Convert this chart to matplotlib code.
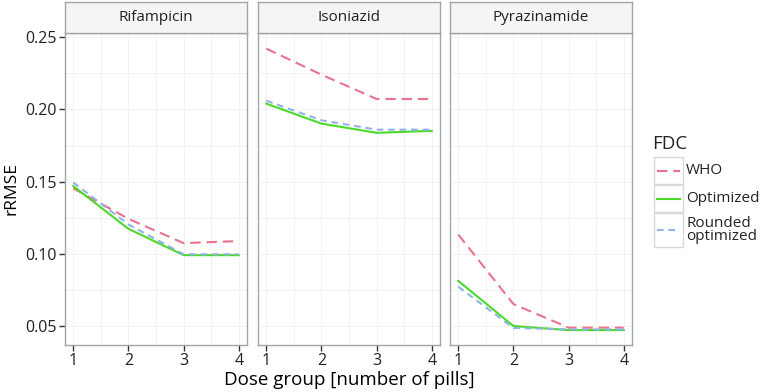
import numpy as np
import matplotlib
matplotlib.use("Agg")
import matplotlib.pyplot as plt
from matplotlib.patches import Rectangle
from matplotlib.lines import Line2D

plt.rcParams['font.family'] = ['Open Sans', 'DejaVu Sans']

drugs = ['Rifampicin', 'Isoniazid', 'Pyrazinamide']
dose = [1, 2, 3, 4]
who = {
    'Rifampicin': [0.1455, 0.1244, 0.1076, 0.1090],
    'Isoniazid': [0.2420, 0.2240, 0.2072, 0.2072],
    'Pyrazinamide': [0.1135, 0.0655, 0.0492, 0.0492],
}
opt = {
    'Rifampicin': [0.1470, 0.1175, 0.0993, 0.0993],
    'Isoniazid': [0.2040, 0.1902, 0.1838, 0.1852],
    'Pyrazinamide': [0.0815, 0.0503, 0.0475, 0.0475],
}
rnd = {
    'Rifampicin': [0.1495, 0.1205, 0.0999, 0.0999],
    'Isoniazid': [0.2060, 0.1925, 0.1860, 0.1860],
    'Pyrazinamide': [0.0775, 0.0490, 0.0480, 0.0480],
}
series = [('WHO', who, '#E9738B', (0, (5, 2.8))),
          ('Optimized', opt, '#4CDA2A', '-'),
          ('Rounded\noptimized', rnd, '#90B4E6', (0, (3.2, 2.3)))]

fig = plt.figure(figsize=(7.65, 3.92), dpi=100)
W, H = 765, 392
lefts = [65, 258, 450]
pw = 182
top, bot = 33, 345
strip_top = 2
border = '#A0A4A6'

for i, d in enumerate(drugs):
    ax = fig.add_axes([lefts[i] / W, 1 - bot / H, pw / W, (bot - top) / H])
    for name, data, c, ls in series:
        ax.plot(dose, data[d], color=c, ls=ls, lw=1.5)
    ax.set_xlim(0.85, 4.15)
    ax.set_ylim(0.0372, 0.2528)
    ax.set_xticks(dose)
    ax.set_yticks([0.05, 0.10, 0.15, 0.20, 0.25])
    ax.set_xticks([1.5, 2.5, 3.5], minor=True)
    ax.set_yticks([0.075, 0.125, 0.175, 0.225], minor=True)
    ax.grid(True, which='both', color='#F0F0F0', lw=0.6)
    ax.set_axisbelow(True)
    for s in ax.spines.values():
        s.set_color(border)
        s.set_linewidth(1.0)
    ax.tick_params(which='major', length=4, width=1, color='#333333',
                   labelsize=11.5, labelcolor='#222222', pad=2)
    ax.tick_params(which='minor', length=0)
    if i == 0:
        ax.set_yticklabels(['0.05', '0.10', '0.15', '0.20', '0.25'])
        ax.set_ylabel('rRMSE', fontsize=12.5, labelpad=4)
    else:
        ax.tick_params(axis='y', which='major', length=0, labelleft=False)
    if i == 1:
        ax.set_xlabel('Dose group [number of pills]', fontsize=13.5, labelpad=1)
    # strip
    sax = fig.add_axes([lefts[i] / W, 1 - top / H, pw / W, (top - strip_top) / H])
    sax.set_facecolor('#F5F5F5')
    sax.set_xticks([])
    sax.set_yticks([])
    for s in sax.spines.values():
        s.set_color(border)
        s.set_linewidth(1.0)
    sax.text(0.5, 0.5, d, ha='center', va='center', fontsize=11,
             color='#222222', transform=sax.transAxes)

# legend drawn ggplot-style
fig.text(652 / W, 1 - 144 / H, 'FDC', fontsize=13.5, va='center', ha='left', color='#222222')
key_tops = [157, 185, 213]
key_h = [27, 27, 34]
for (name, data, c, ls), kt, kh in zip(series, key_tops, key_h):
    fig.patches.append(Rectangle((654 / W, 1 - (kt + kh) / H), 29 / W, kh / H,
                                 transform=fig.transFigure, facecolor='white',
                                 edgecolor='#D9D9D9', lw=1))
    yc = 1 - (kt + kh / 2) / H
    fig.lines.append(Line2D([657 / W, 680 / W], [yc, yc], transform=fig.transFigure,
                            color=c, ls=ls, lw=1.5))
    fig.text(686 / W, yc, name, fontsize=11, va='center', ha='left',
             color='#222222', linespacing=0.9)

fig.savefig('out.png', dpi=100)
